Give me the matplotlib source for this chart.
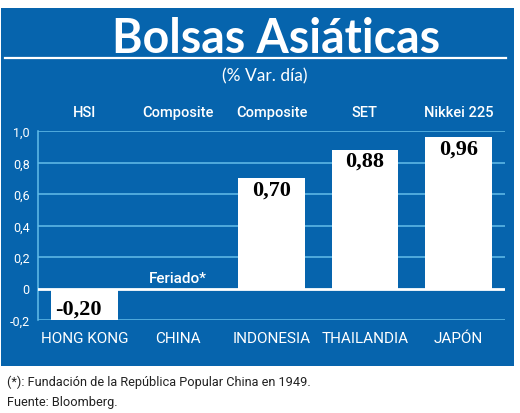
import matplotlib
matplotlib.use("Agg")
import matplotlib.pyplot as plt
from matplotlib.patches import Rectangle
from matplotlib.lines import Line2D
import numpy as np

# ---- data ----
countries = ["HONG KONG", "CHINA", "INDONESIA", "THAILANDIA", "JAPÓN"]
indices = ["HSI", "Composite", "Composite", "SET", "Nikkei 225"]
values = [-0.20, None, 0.70, 0.88, 0.96]
value_labels = ["-0,20", "Feriado*", "0,70", "0,88", "0,96"]
yticks = [-0.2, 0.0, 0.2, 0.4, 0.6, 0.8, 1.0]
ytick_labels = ["-0,2", "0", "0,2", "0,4", "0,6", "0,8", "1,0"]
title = "Bolsas Asiáticas"
subtitle = "(% Var. día)"
notes = ["(*): Fundación de la República Popular China en 1949.",
         "Fuente: Bloomberg."]

# ---- style ----
W, H = 520, 414
BLUE = "#0664ad"
GRID = "#63bdea"
NARROW = ["Roboto", "DejaVu Sans"]
SANS = ["Lato", "DejaVu Sans"]

def fx(x):
    return x / W

def fy(y):
    return 1 - y / H

fig = plt.figure(figsize=(W / 100, H / 100), dpi=100, facecolor="white")

fig.add_artist(Rectangle((fx(1), fy(367)), fx(514) - fx(1), fy(9) - fy(367),
                         transform=fig.transFigure, facecolor=BLUE,
                         edgecolor="none", zorder=0))
fig.add_artist(Line2D([fx(5), fx(506)], [fy(59), fy(59)], color="white",
                      lw=1.6, transform=fig.transFigure, zorder=1))

fig.text(fx(276), fy(53), title, ha="center", va="baseline", color="white",
         fontsize=33.5, fontweight="bold", family=SANS, zorder=2)
fig.text(fx(265), fy(76), subtitle, ha="center", va="center", color="white",
         fontsize=12.5, family=SANS, zorder=2)

ax = fig.add_axes([fx(38), fy(321), fx(505) - fx(38), fy(132) - fy(321)])
ax.patch.set_visible(False)
ax.set_zorder(3)
x = np.arange(len(countries))
ax.set_xlim(-0.5, len(countries) - 0.5)
ax.set_ylim(yticks[0], yticks[-1])

for t in yticks:
    if t == 0:
        continue
    ax.axhline(t, color=GRID, lw=1.1, zorder=1)
ax.axhline(0, color="white", lw=2, zorder=3)

bx = [i for i, v in zip(x, values) if v is not None]
bv = [v for v in values if v is not None]
ax.bar(bx, bv, width=0.715, color="white", edgecolor="none", zorder=2)

for s in ["top", "right", "bottom"]:
    ax.spines[s].set_visible(False)
ax.spines["left"].set_color(GRID)
ax.spines["left"].set_linewidth(1.1)

ax.set_yticks(yticks, ytick_labels)
ax.tick_params(axis="y", length=0, pad=6, colors="white", labelsize=9)
ax.set_xticks(x, countries)
ax.tick_params(axis="x", length=0, pad=8, colors="white", labelsize=11)
for lab in ax.get_xticklabels() + ax.get_yticklabels():
    lab.set_family(NARROW)

for i, name in enumerate(indices):
    ax.annotate(name, xy=(i, yticks[-1]), xytext=(0, 19),
                textcoords="offset pixels", ha="center", va="center",
                color="white", fontsize=10.5, fontweight="medium", family=NARROW)

for i, (v, lab) in enumerate(zip(values, value_labels)):
    if v is None:
        ax.annotate(lab, xy=(i, 0), xytext=(0, 10), textcoords="offset pixels",
                    ha="center", va="center", color="white", fontsize=11,
                    fontweight="medium", family=NARROW, zorder=5)
    elif v >= 0:
        ax.annotate(lab, xy=(i, v), xytext=(0, -11), textcoords="offset pixels",
                    ha="center", va="center", color="black", fontsize=16,
                    fontweight="bold", family=["Liberation Serif"], zorder=5)
    else:
        ax.annotate(lab, xy=(i, 0), xytext=(-6, -20), textcoords="offset pixels",
                    ha="center", va="center", color="black", fontsize=16,
                    fontweight="bold", family=["Liberation Serif"], zorder=5)

fig.text(fx(7), fy(382), notes[0], ha="left", va="center", color="#222222",
         fontsize=9.2, family=NARROW)
fig.text(fx(7), fy(403), notes[1], ha="left", va="center", color="#222222",
         fontsize=9.2, family=NARROW)

fig.savefig("out.png", dpi=100, facecolor="white")
